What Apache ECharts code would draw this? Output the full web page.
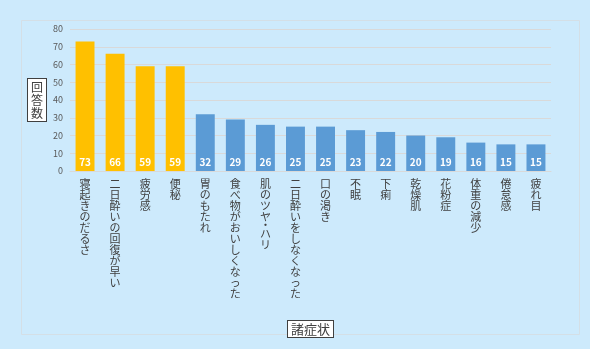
<!DOCTYPE html>
<html>
<head>
<meta charset="utf-8">
<script src="https://cdn.jsdelivr.net/npm/echarts@6/dist/echarts.min.js"></script>
<style>
html,body{margin:0;padding:0;background:#cdeafc;}
#chart{width:590px;height:349px;}
</style>
</head>
<body>
<div id="chart"></div>
<script>
// Symptoms and number of responses
const categories = ['寝起きのだるさ','二日酔いの回復が早い','疲労感','便秘','胃のもたれ','食べ物がおいしくなった','肌のツヤ・ハリ','二日酔いをしなくなった','口の渇き','不眠','下痢','乾燥肌','花粉症','体重の減少','倦怠感','疲れ目'];
const counts = [73, 66, 59, 59, 32, 29, 26, 25, 25, 23, 22, 20, 19, 16, 15, 15];
const highlightCount = 4; // top items drawn in orange
const yTicks = { min: 0, max: 80, interval: 10 };
const axisTitleY = '回答数';
const axisTitleX = '諸症状';

const FONT = '"Noto Sans CJK JP", "Noto Sans", sans-serif';
const vertical = s => s.split('').join('\n');
// vertical label; the middle dot takes a shorter line
const verticalRich = s => s.split('').map(c => c === '・' ? '{dot|・}' : '{c|' + c + '}').join('\n');

const chart = echarts.init(document.getElementById('chart'), null, { renderer: 'canvas' });
chart.setOption({
  backgroundColor: '#cdeafc',
  textStyle: { fontFamily: FONT },
  animation: false,
  graphic: [{
    type: 'rect', left: 19, top: 18, z: -1,
    shape: { width: 558, height: 314 },
    style: { fill: 'none', stroke: '#d4dfe6', lineWidth: 1 }
  }],
  grid: { left: 70, right: 39, top: 29, bottom: 178 },
  xAxis: {
    type: 'category',
    data: categories,
    name: axisTitleX,
    nameLocation: 'middle',
    nameGap: 150,
    nameTextStyle: {
      fontSize: 13, color: '#404040', fontFamily: FONT,
      backgroundColor: '#ffffff', borderColor: '#404040', borderWidth: 1,
      padding: [2, 3, 1, 3]
    },
    axisTick: { show: false },
    axisLine: { lineStyle: { color: '#d9d9d9' } },
    axisLabel: {
      interval: 0, margin: 7, color: '#404040', fontSize: 11, lineHeight: 11,
      verticalAlign: 'top', fontFamily: FONT,
      formatter: v => verticalRich(v),
      rich: {
        c: { fontSize: 11, lineHeight: 11, color: '#404040', fontFamily: FONT },
        dot: { fontSize: 11, lineHeight: 6, color: '#404040', fontFamily: FONT }
      }
    }
  },
  yAxis: {
    type: 'value',
    min: yTicks.min, max: yTicks.max, interval: yTicks.interval,
    name: vertical(axisTitleY),
    nameLocation: 'middle',
    nameRotate: 0,
    nameGap: 24,
    nameTextStyle: {
      fontSize: 12, lineHeight: 13, color: '#404040', fontFamily: FONT,
      backgroundColor: '#ffffff', borderColor: '#404040', borderWidth: 1,
      padding: [2, 3, 1, 3], align: 'right', verticalAlign: 'middle'
    },
    axisLine: { show: false },
    axisTick: { show: false },
    splitLine: { lineStyle: { color: '#d9d9d9' } },
    axisLabel: { color: '#595959', fontSize: 9, margin: 7 }
  },
  series: [{
    type: 'bar',
    data: counts.map((v, i) => ({
      value: v,
      itemStyle: { color: i < highlightCount ? '#ffc000' : '#5b9bd5' }
    })),
    barCategoryGap: '37%',
    label: {
      show: true, position: 'insideBottom', distance: 4,
      color: '#ffffff', fontSize: 10, fontWeight: 'bold', fontFamily: FONT
    }
  }]
});
</script>
</body>
</html>
